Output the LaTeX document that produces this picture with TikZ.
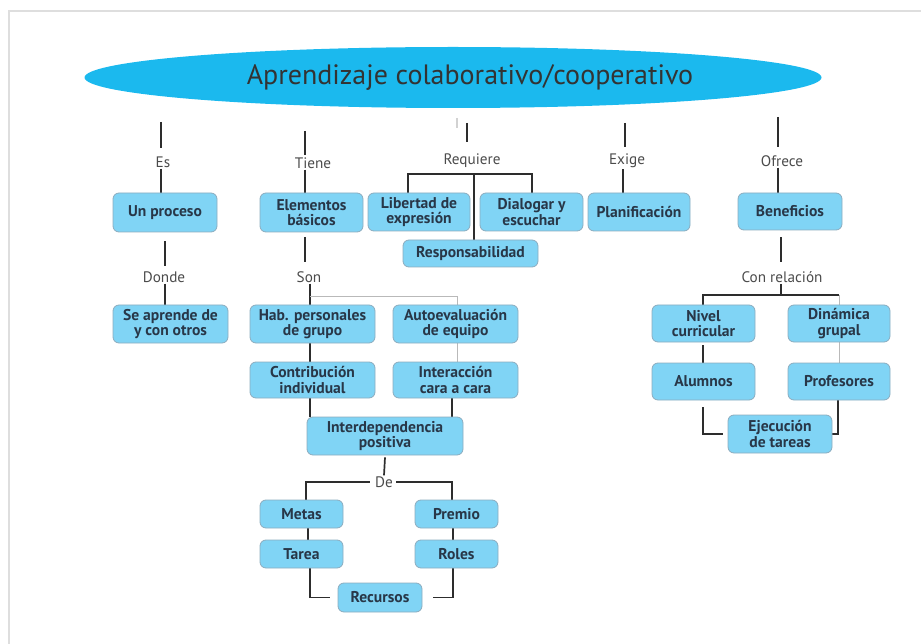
\documentclass[tikz,border=0pt]{standalone}
\usepackage{fontspec}
\setmainfont{PT Sans}
\usetikzlibrary{backgrounds,calc,shapes.geometric}
\definecolor{boxfill}{RGB}{128,212,245}
\definecolor{boxdraw}{RGB}{140,172,190}
\definecolor{ellfill}{RGB}{27,185,238}
\definecolor{boxtext}{RGB}{40,55,72}
\definecolor{labtext}{RGB}{75,75,75}
\definecolor{linkc}{RGB}{45,45,45}
\definecolor{framec}{RGB}{222,222,222}
\tikzset{
  box/.style={draw=boxdraw, line width=0.8pt, fill=boxfill, rounded corners=6pt,
    align=center, font=\fontsize{15.6}{15.5}\selectfont\bfseries, text=boxtext, inner sep=2pt},
  lab/.style={font=\fontsize{15.2}{16}\selectfont, text=labtext, inner sep=1pt},
  link/.style={draw=linkc, line width=1.7pt},
  thinlink/.style={draw=gray!55, line width=1pt},
}
\begin{document}
\begin{tikzpicture}[x=1pt,y=-1pt]
\useasboundingbox (0,0) rectangle (921,644);
% frame
\draw[framec, line width=1.5pt] (921,11) -- (9,11) -- (9,644);

% title
\node[ellipse, fill=ellfill, minimum width=737, minimum height=61, inner sep=0pt,
      font=\fontsize{28}{32}\selectfont, text=black!80] (title) at (453,77.5) {\hspace*{34pt}Aprendizaje colaborativo/cooperativo};

% labels
\node[lab] (es) at (163,162) {Es};
\node[lab] (tiene) at (313,163) {Tiene};
\node[lab] (requiere) at (472,161) {Requiere};
\node[lab] (exige) at (627,161) {Exige};
\node[lab] (ofrece) at (782,161) {Ofrece};
\node[lab] (donde) at (164,277) {Donde};
\node[lab] (son) at (309,277) {Son};
\node[lab] (conrel) at (782,277) {Con relación};
\node[lab] (de) at (384,482) {De};

% boxes
\node[box, minimum width=104, minimum height=39] (proceso) at (165,212.5) {Un proceso};
\node[box, minimum width=115, minimum height=38] (seaprende) at (170.5,324) {Se aprende de\\y con otros};
\node[box, minimum width=103, minimum height=39] (elementos) at (311.5,212.5) {Elementos\\básicos};
\node[box, minimum width=102, minimum height=38] (libertad) at (419,212) {Libertad de\\expresión};
\node[box, minimum width=103, minimum height=38] (dialogar) at (531.5,212) {Dialogar y\\escuchar};
\node[box, minimum width=135, minimum height=27] (respons) at (470.5,253.5) {Responsabilidad};
\node[box, minimum width=102, minimum height=38] (planif) at (639,212) {Planificación};
\node[box, minimum width=104, minimum height=37] (benef) at (790,211.5) {Beneficios};
\node[box, minimum width=125, minimum height=38] (hab) at (312.5,324) {Hab. personales\\de grupo};
\node[box, minimum width=125, minimum height=38] (auto) at (455.5,324) {Autoevaluación\\de equipo};
\node[box, minimum width=125, minimum height=36] (contrib) at (312.5,380) {Contribución\\individual};
\node[box, minimum width=125, minimum height=36] (interac) at (455.5,380) {Interacción\\cara a cara};
\node[box, minimum width=156, minimum height=38] (interdep) at (385,436) {Interdependencia\\positiva};
\node[box, minimum width=83, minimum height=28] (metas) at (301.5,514) {Metas};
\node[box, minimum width=83, minimum height=28] (premio) at (456.5,514) {Premio};
\node[box, minimum width=83, minimum height=28] (tarea) at (301.5,554) {Tarea};
\node[box, minimum width=83, minimum height=28] (roles) at (456.5,554) {Roles};
\node[box, minimum width=84, minimum height=29] (recursos) at (380,597.5) {Recursos};
\node[box, minimum width=103, minimum height=37] (nivel) at (703.5,323.5) {Nivel\\curricular};
\node[box, minimum width=102, minimum height=37] (dinamica) at (839,323.5) {Dinámica\\grupal};
\node[box, minimum width=103, minimum height=37] (alumnos) at (703.5,381.5) {Alumnos};
\node[box, minimum width=102, minimum height=37] (profes) at (839,381.5) {Profesores};
\node[box, minimum width=104, minimum height=38] (ejec) at (780,434) {Ejecución\\de tareas};

% free ends
\coordinate (esTop) at (161,122);
\coordinate (tieneTop) at (305,131);
\coordinate (reqTop) at (467,123);
\coordinate (ghost) at (457,118);
\coordinate (exigeTop) at (625,123);
\coordinate (ofreceTop) at (778,117);
\coordinate (reqBar) at (474,174);

\begin{scope}[on background layer]
% Es branch
\draw[link] (esTop) -- (esTop |- 0,148);
\draw[link] (esTop |- es.south) -- (esTop |- proceso.north);
\draw[link] ([yshift=-9pt]proceso.south) -- ++(0,25);
\draw[link] (proceso.south |- donde.south) -- (proceso.south |- seaprende.north);
% Tiene branch
\draw[link] (tieneTop) -- ++(0,24);
\draw[link] (tieneTop |- tiene.south) -- (tieneTop |- elementos.north);
\draw[link] (tieneTop |- 0,237) -- (tieneTop |- 0,262);
\draw[link] (son.south -| 310,0) -- (hab.north -| 310,0);
\draw[link] (hab.south -| 310,0) -- (contrib.north -| 310,0);
\draw[link] (contrib.south -| 310,0) -- (interdep.north -| 310,0);
\draw[thinlink] (310,297) -| (auto.north -| 457,0);
\draw[thinlink] (auto.south -| 457,0) -- (interac.north -| 457,0);
\draw[link] (interac.south -| 452,0) -- (interdep.north -| 452,0);
\draw[link] ([yshift=-2pt]interdep.south) -- (de.north);
\draw[link] ([xshift=-4pt]de.west) -- (306,482) -- (metas.north -| 306,0);
\draw[link] ([xshift=2pt]de.east) -- (452,482) -- (premio.north -| 452,0);
\draw[link] (metas.south -| 308,0) -- (tarea.north -| 308,0);
\draw[link] (premio.south -| 453,0) -- (roles.north -| 453,0);
\draw[link, shorten >=8pt] (tarea.south -| 310,0) |- (recursos.west);
\draw[link, shorten >=11pt] (roles.south -| 453,0) |- (recursos.east);
% Requiere branch
\draw[draw=gray!35, line width=1.5pt] (ghost) -- ++(0,10);
\draw[link] (reqTop) -- ++(0,19);
\draw[link] (libertad.north -| 408,0) -- (408,174) -- (532,174) -- (dialogar.north -| 532,0);
\draw[link] (reqBar) -- (respons.north -| reqBar);
% Exige branch
\draw[link] (exigeTop) -- ++(0,24);
\draw[link] (exige.south -| 623,0) -- (planif.north -| 623,0);
% Ofrece branch
\draw[link] (ofreceTop) -- ++(0,30);
\draw[link] (ofrece.south -| ofreceTop) -- (benef.north -| ofreceTop);
\draw[link] ([yshift=-7pt]benef.south -| 781,0) -- ++(0,25);
\draw[link] (conrel.south -| 781,0) -- (781,295);
\draw[link] (nivel.north -| 703,0) -- (703,295) -- (839,295);
\draw[thinlink] (839,295) -- (profes.north -| 839,0);
\draw[link] ([yshift=-3pt]nivel.south -| 703,0) -- (alumnos.north -| 703,0);
\draw[link, shorten >=5pt] ([yshift=-7pt]alumnos.south -| 703,0) |- (ejec.west);
\draw[link] (profes.south -| 838,0) |- (ejec.east);
\end{scope}
\end{tikzpicture}
\end{document}
